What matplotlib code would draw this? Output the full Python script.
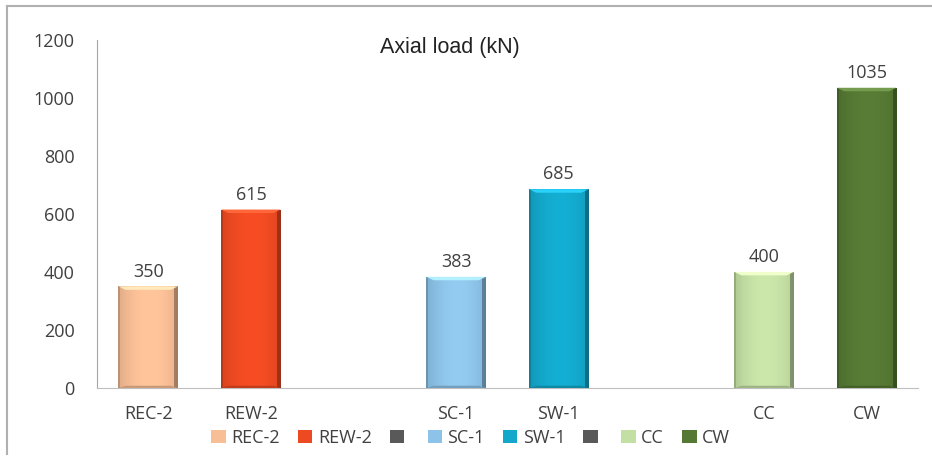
import numpy as np
import matplotlib
matplotlib.use("Agg")
from matplotlib import pyplot as plt
from matplotlib.patches import Patch, Polygon
from matplotlib.colors import to_rgb

# Axial load of each specimen, blanks separate the groups
categories = ["REC-2", "REW-2", "", "SC-1", "SW-1", "", "CC", "CW"]
loads = [350, 615, 0, 383, 685, 0, 400, 1035]
colors = ["#F8BE95", "#EE4A22", "#595959", "#8DC3E8", "#13A8CB", "#595959", "#C4DFA4", "#557833"]
yticks = [0, 200, 400, 600, 800, 1000, 1200]

plt.rcParams['font.family'] = ['Open Sans', 'DejaVu Sans']
txt = '#404040'
fs = 13

fig = plt.figure(figsize=(9.32, 4.59), dpi=100)
ax = fig.add_axes([0.104, 0.155, 0.881, 0.758])

x = np.arange(len(categories))
w = 0.58
bars = ax.bar(x, loads, width=w, color=colors, zorder=2)

# shaded "bevel" look on each bar
prof = np.linspace(0, 1, 60)
shade = 0.82 + 0.22 * np.sin(np.pi * (prof * 0.85 + 0.05)) ** 0.6
shade[-4:] *= 0.7
shade[:2] *= 0.85
for b, v, c in zip(bars, loads, colors):
    if v == 0:
        b.set_visible(False)
        continue
    base = np.array(to_rgb(c))
    img = np.clip(base[None, None, :] * shade[None, :, None], 0, 1)
    x0, x1 = b.get_x(), b.get_x() + b.get_width()
    im = ax.imshow(img, extent=[x0, x1, 0, v], aspect='auto', zorder=3, interpolation='bilinear')
    im.set_clip_path(b)
    bev = 12.0
    dx = 0.07
    top = Polygon([[x0, v], [x1, v], [x1 - dx, v - bev], [x0 + dx, v - bev]],
                  closed=True, facecolor=np.clip(base * 1.12 + 0.08, 0, 1), edgecolor='none', zorder=4)
    ax.add_patch(top)
    bot = Polygon([[x0, 0], [x1, 0], [x1 - dx, bev * 0.6], [x0 + dx, bev * 0.6]],
                  closed=True, facecolor=base * 0.8, edgecolor='none', zorder=4)
    ax.add_patch(bot)
    ax.text(b.get_x() + b.get_width() / 2, v + 20, str(v), ha='center', va='bottom',
            fontsize=fs, color=txt, zorder=5)

ax.set_xlim(-0.5, len(categories) - 0.5)
ax.set_ylim(0, 1200)
ax.set_yticks(yticks)
ax.set_yticklabels([str(t) for t in yticks], fontsize=fs, color=txt)
ax.set_xticks(x)
ax.set_xticklabels(categories, fontsize=fs, color=txt)
ax.tick_params(axis='both', length=0)
ax.tick_params(axis='y', pad=16)
ax.tick_params(axis='x', pad=12)
for s in ['top', 'right']:
    ax.spines[s].set_visible(False)
ax.spines['left'].set_color('#A6A6A6')
ax.spines['bottom'].set_color('#BFBFBF')

ax.text(0.43, 1.008, "Axial load (kN)", transform=ax.transAxes, ha='center', va='top',
        fontsize=15.5, family='Liberation Sans', color='#222222')

handles = [Patch(facecolor=c, edgecolor='none') for c in colors]
fig.legend(handles, categories, loc='center', bbox_to_anchor=(0.505, 0.046), ncol=8,
           frameon=False, fontsize=fs, handlelength=0.8, handleheight=0.7,
           handletextpad=0.3, columnspacing=1.0, labelcolor=txt)

# outer chart frame
fig.add_artist(plt.Line2D([0.0075, 0.0075], [0.01, 0.987], transform=fig.transFigure, color='#B0B0B0', lw=1.5))
fig.add_artist(plt.Line2D([0.0075, 1.0], [0.987, 0.987], transform=fig.transFigure, color='#B0B0B0', lw=1.5))

fig.savefig("out.png", dpi=100)
